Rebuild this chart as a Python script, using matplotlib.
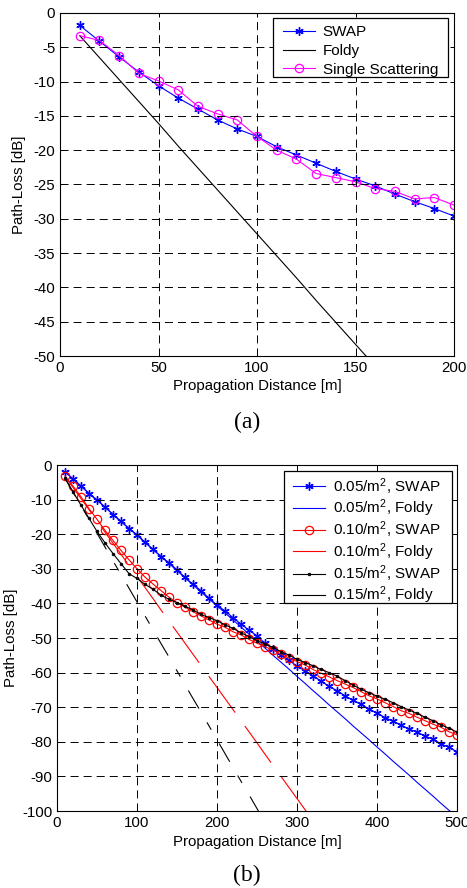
import matplotlib
matplotlib.use("Agg")
import matplotlib.pyplot as plt
from matplotlib.lines import Line2D
from matplotlib.patches import Rectangle

plt.rcParams['font.family'] = ['Liberation Sans', 'DejaVu Sans']
plt.rcParams['axes.unicode_minus'] = False
plt.rcParams['mathtext.default'] = 'regular'
plt.rcParams['lines.scale_dashes'] = False

# ---------------- data (a) ----------------
x_a = [10, 20, 30, 40, 50, 60, 70, 80, 90, 100, 110, 120, 130, 140, 150, 160, 170, 180, 190, 200]
swap_a = [-1.8, -4.1, -6.4, -8.6, -10.6, -12.4, -14.0, -15.6, -16.9, -18.0,
          -19.5, -20.7, -21.9, -23.1, -24.2, -25.2, -26.4, -27.5, -28.5, -29.6]
ss_a = [-3.3, -4.0, -6.2, -8.8, -9.9, -11.2, -13.6, -14.7, -15.6, -18.0,
        -20.0, -21.3, -23.4, -24.0, -24.6, -25.6, -26.0, -27.1, -26.9, -28.0]
x_foldy_a = [10, 20, 30, 40, 50, 60, 70, 80, 90, 100, 110, 120, 130, 140, 150, 160]
foldy_a = [-3.3, -6.5, -9.7, -12.9, -16.1, -19.4, -22.6, -25.8, -29.0, -32.2,
           -35.4, -38.6, -41.9, -45.1, -48.3, -51.5]

# ---------------- data (b) ----------------
x_b = list(range(10, 510, 10))
swap_005 = [-2.0, -4.0, -6.1, -8.3, -10.2, -12.1, -14.4, -16.3, -18.4, -20.1,
            -22.3, -24.4, -26.5, -28.2, -30.3, -32.5, -34.5, -36.3, -38.5, -40.5,
            -42.2, -44.1, -46.0, -47.7, -49.4, -51.5, -53.2, -55.0, -56.5, -58.1,
            -59.4, -61.0, -62.4, -64.0, -65.2, -66.7, -68.0, -69.2, -70.5, -71.7,
            -73.0, -74.0, -75.2, -76.3, -77.2, -78.3, -79.3, -80.6, -81.6, -82.9]
foldy_005 = [-2.0, -4.0, -6.1, -8.1, -10.1, -12.2, -14.2, -16.3, -18.3, -20.3,
             -22.4, -24.4, -26.4, -28.5, -30.5, -32.6, -34.6, -36.7, -38.7, -40.7,
             -42.7, -44.8, -46.8, -48.9, -50.9, -52.9, -55.0, -57.0, -59.0, -61.1,
             -63.1, -65.2, -67.2, -69.3, -71.3, -73.3, -75.4, -77.4, -79.4, -81.5,
             -83.5, -85.6, -87.6, -89.6, -91.7, -93.7, -95.7, -97.8, -99.8, -101.8]
swap_010 = [-3.2, -6.1, -9.2, -12.6, -15.7, -18.9, -21.8, -24.7, -27.4, -30.0,
            -32.4, -34.4, -36.3, -38.2, -39.8, -41.1, -42.4, -43.6, -44.8, -46.0,
            -46.9, -48.2, -49.1, -50.4, -51.5, -52.5, -53.5, -54.7, -55.8, -56.8,
            -57.8, -59.1, -60.2, -61.2, -62.3, -63.3, -64.3, -65.5, -66.7, -67.6,
            -68.7, -69.8, -71.0, -71.8, -72.9, -73.9, -74.9, -75.8, -77.1, -78.0]
x_foldy_010 = list(range(10, 330, 10))
foldy_010 = [-3.3, -6.5, -9.7, -12.9, -16.1, -19.4, -22.6, -25.8, -29.0, -32.2,
             -35.4, -38.6, -41.9, -45.1, -48.3, -51.5, -54.7, -57.9, -61.1, -64.3,
             -67.5, -70.7, -73.9, -77.1, -80.3, -83.6, -86.8, -90.0, -93.2, -96.4,
             -99.6, -102.8]
swap_015 = [-3.8, -7.8, -11.6, -15.4, -19.2, -22.5, -25.6, -28.5, -31.4, -32.8,
            -34.5, -35.9, -37.6, -38.8, -39.8, -40.8, -41.9, -43.2, -44.1, -45.0,
            -46.2, -47.2, -48.5, -49.6, -50.8, -51.7, -52.7, -54.0, -54.9, -56.2,
            -57.1, -58.0, -59.1, -60.0, -61.0, -62.3, -63.6, -64.8, -65.8, -66.8,
            -67.7, -68.7, -69.8, -70.8, -71.8, -72.9, -73.9, -75.1, -76.1, -77.2]
x_foldy_015 = list(range(10, 270, 10))
foldy_015 = [-3.8, -7.8, -11.8, -15.7, -19.7, -23.7, -27.7, -31.7, -35.6, -39.6,
             -43.6, -47.6, -51.6, -55.5, -59.5, -63.5, -67.5, -71.4, -75.4, -79.4,
             -83.4, -87.4, -91.4, -95.3, -99.3, -103.3]

labels_a = ['SWAP', 'Foldy', 'Single Scattering']
labels_b = [r'0.05/m$^2$, SWAP', r'0.05/m$^2$, Foldy', r'0.10/m$^2$, SWAP',
            r'0.10/m$^2$, Foldy', r'0.15/m$^2$, SWAP', r'0.15/m$^2$, Foldy']

W, H = 467, 888
fig = plt.figure(figsize=(W / 100, H / 100), dpi=100)

FS = 10.8
LW = 0.8
grid_kw = dict(color='black', linestyle=(0, (5.8, 3.6)), linewidth=0.7)
ast = (6, 2, 0)


def fx(px):
    return px / W


def fy(py):
    return 1 - py / H


def style_axes(ax, ypad, xpad):
    ax.grid(True, **grid_kw)
    ax.set_axisbelow(False)
    ax.tick_params(direction='in', length=3, width=0.7, top=True, right=True,
                   labelsize=FS, pad=3.5)
    for s in ax.spines.values():
        s.set_linewidth(0.8)
        s.set_color('black')
    ax.set_xlabel('Propagation Distance [m]', fontsize=FS, labelpad=xpad)
    ax.set_ylabel('Path-Loss [dB]', fontsize=FS, labelpad=ypad)


def boxed_legend(ax, handles, labels, box, anchor, spacing):
    x0, y0, x1, y1 = box
    rect = Rectangle((fx(x0), fy(y1)), fx(x1) - fx(x0), fy(y0) - fy(y1),
                     transform=fig.transFigure, facecolor='white', edgecolor='black',
                     linewidth=0.9, zorder=4.9, clip_on=False)
    ax.add_patch(rect)
    leg = ax.legend(handles, labels, loc='upper left',
                    bbox_to_anchor=(fx(anchor[0]), fy(anchor[1])),
                    bbox_transform=fig.transFigure, fontsize=FS + 0.2,
                    frameon=False, borderaxespad=0, borderpad=0,
                    handlelength=2.1, handletextpad=0.5, labelspacing=spacing)
    leg.set_zorder(5)
    return leg


# ---------------- panel (a) ----------------
ax1 = fig.add_axes([fx(60), fy(356), fx(454) - fx(60), fy(13) - fy(356)])
ax1.plot(x_a, swap_a, color='blue', lw=LW, marker=ast, ms=6, mew=1.0)
ax1.plot(x_foldy_a, foldy_a, color='black', lw=LW)
ax1.plot(x_a, ss_a, color='magenta', lw=LW, marker='o', ms=6, mfc='none', mew=0.9)
ax1.set_xlim(0, 200)
ax1.set_ylim(-50, 0)
ax1.set_xticks([0, 50, 100, 150, 200])
ax1.set_yticks(list(range(-50, 1, 5)))
style_axes(ax1, ypad=5.5, xpad=3)
ha = [Line2D([], [], color='blue', lw=LW, marker=ast, ms=6, mew=1.0),
      Line2D([], [], color='black', lw=LW),
      Line2D([], [], color='magenta', lw=LW, marker='o', ms=6, mfc='none', mew=0.9)]
boxed_legend(ax1, ha, labels_a, (273, 18, 448, 77), (283, 25), 0.32)

# ---------------- panel (b) ----------------
ax2 = fig.add_axes([fx(57), fy(811), fx(457) - fx(57), fy(465) - fy(811)])
ax2.plot(x_b, swap_005, color='blue', lw=LW, marker=ast, ms=6, mew=1.0)
ax2.plot(x_b, foldy_005, color='blue', lw=LW)
ax2.plot(x_b, swap_010, color='red', lw=LW, marker='o', ms=6, mfc='none', mew=0.9)
ax2.plot(x_foldy_010, foldy_010, color='red', lw=LW, linestyle=(0, (32.4, 11.9)))
ax2.plot(x_b, swap_015, color='black', lw=LW, marker='o', ms=2, mfc='black', mew=0.5)
ax2.plot(x_foldy_015, foldy_015, color='black', lw=LW,
         linestyle=(0, (15.1, 11.5, 6.1, 11.5)))
ax2.set_xlim(0, 500)
ax2.set_ylim(-100, 0)
ax2.set_xticks([0, 100, 200, 300, 400, 500])
ax2.set_yticks(list(range(-100, 1, 10)))
style_axes(ax2, ypad=2.5, xpad=4)
hb = [Line2D([], [], color='blue', lw=LW, marker=ast, ms=6, mew=1.0),
      Line2D([], [], color='blue', lw=LW),
      Line2D([], [], color='red', lw=LW, marker='o', ms=6, mfc='none', mew=0.9),
      Line2D([], [], color='red', lw=LW),
      Line2D([], [], color='black', lw=LW, marker='o', ms=2, mfc='black', mew=0.5),
      Line2D([], [], color='black', lw=LW)]
boxed_legend(ax2, hb, labels_b, (284, 471, 452, 603), (293, 476), 0.05)

fig.text(fx(247), fy(422), '(a)', ha='center', va='center',
         fontsize=17, family=['Liberation Serif', 'DejaVu Serif'])
fig.text(fx(247), fy(875), '(b)', ha='center', va='center',
         fontsize=17, family=['Liberation Serif', 'DejaVu Serif'])

fig.savefig('out.png', dpi=100)
